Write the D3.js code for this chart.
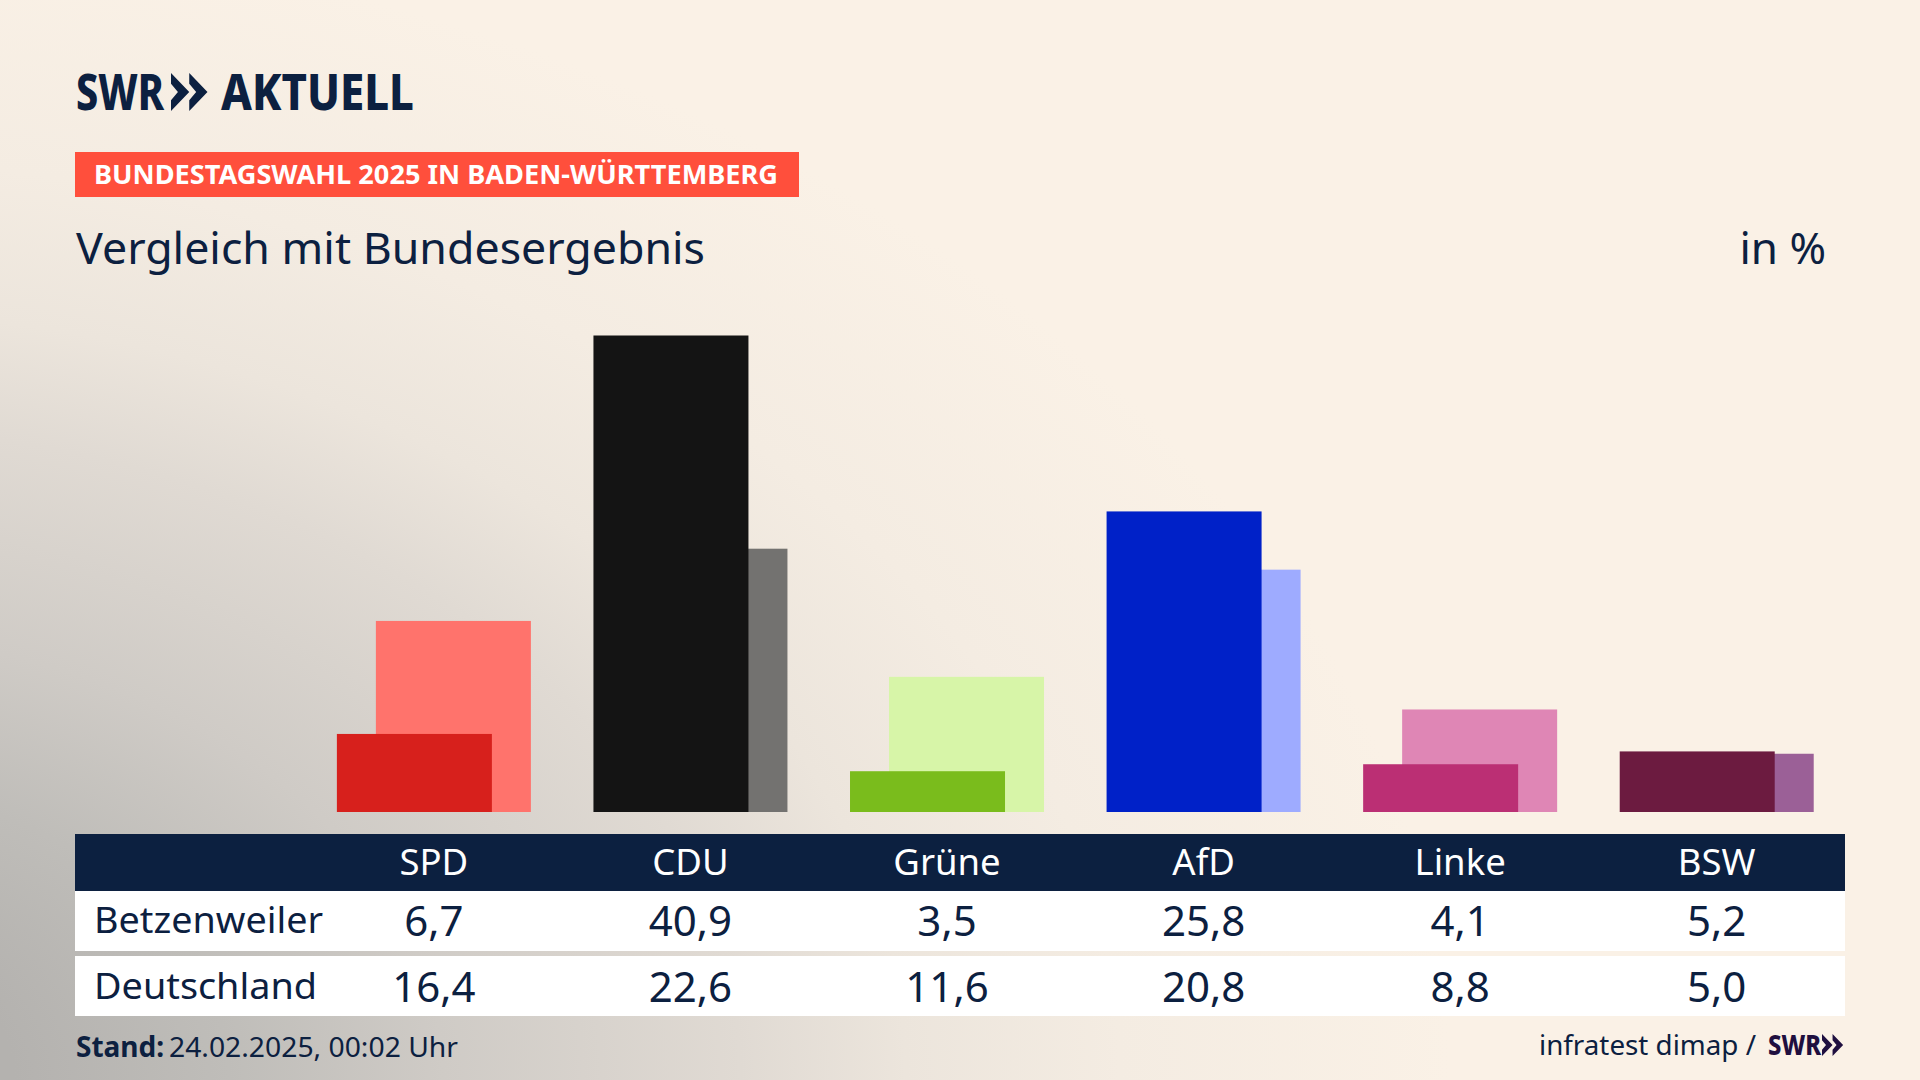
<!DOCTYPE html>
<html>

<head>
  <meta charset="utf-8">
  <title>Vergleich mit Bundesergebnis</title>
  <script src="https://d3js.org/d3.v7.min.js"></script>
  <style>
    html, body {
      margin: 0;
      padding: 0;
      background: #faf1e6;
    }

    svg {
      display: block;
    }

    text {
      font-family: "Noto Sans", sans-serif;
      fill: #0c2040;
    }
  </style>
</head>

<body>
  <svg id="root" width="1920" height="1080"></svg>
  <script>
    var parties = ['SPD', 'CDU', 'Grüne', 'AfD', 'Linke', 'BSW'];
    var betzenweiler = [6.7, 40.9, 3.5, 25.8, 4.1, 5.2];
    var deutschland = [16.4, 22.6, 11.6, 20.8, 8.8, 5.0];
    var darkColors = ['#d7201c', '#141414', '#7abc1c', '#0021c8', '#bb2f74', '#6c1b40'];
    var lightColors = ['#ff736c', '#737270', '#d7f5a8', '#9eabff', '#df86b5', '#9b6097'];

    var navy = '#0c2040';
    var svg = d3.select('#root');

    // background: grey glow out of the lower left corner
    var defs = svg.append('defs');
    var glow = defs.append('radialGradient')
      .attr('id', 'glow')
      .attr('gradientUnits', 'userSpaceOnUse')
      .attr('cx', 0)
      .attr('cy', 0)
      .attr('r', 1)
      .attr('gradientTransform', 'translate(-200,1080) scale(1650,1150)');
    [[0.13, '#b4b2af'], [0.26, '#bfbdb9'], [0.39, '#cfcbc6'], [0.57, '#e0dad3'],
      [0.67, '#ece5dc'], [0.8, '#f4ece2'], [1, '#faf1e6']].forEach(function (s) {
      glow.append('stop').attr('offset', s[0]).attr('stop-color', s[1]);
    });

    svg.append('rect')
      .attr('width', 1920)
      .attr('height', 1080)
      .attr('fill', 'url(#glow)');

    var x = d3.scaleBand().domain(parties).range([305.6, 1845]);
    var y = d3.scaleLinear().domain([0, 40.9]).range([812, 335.5]);
    var comma = d3.formatLocale({ decimal: ',', thousands: '.', grouping: [3], currency: ['', ' €'] }).format('.1f');

    var barWidth = 155;
    var offset = 39; // how far the national bar sticks out to the right

    // logo
    function chevrons(g, x0, top, h, color) {
      var w = h * 0.48;
      [0, w].forEach(function (dx) {
        var p = d3.path();
        p.moveTo(x0 + dx, top);
        p.lineTo(x0 + dx + w, top + h / 2);
        p.lineTo(x0 + dx, top + h);
        p.lineTo(x0 + dx, top + h * 0.72);
        p.lineTo(x0 + dx + w * 0.38, top + h / 2);
        p.lineTo(x0 + dx, top + h * 0.28);
        p.closePath();
        g.append('path').attr('d', p.toString()).attr('fill', color);
      });
    }

    var logo = svg.append('g');
    logo.append('text')
      .attr('x', 76)
      .attr('y', 110)
      .attr('textLength', 88)
      .attr('lengthAdjust', 'spacingAndGlyphs')
      .style('font-size', '49px')
      .style('font-weight', 800)
      .text('SWR');
    chevrons(logo, 171, 73, 38, navy);
    logo.append('text')
      .attr('x', 221)
      .attr('y', 110)
      .attr('textLength', 193)
      .attr('lengthAdjust', 'spacingAndGlyphs')
      .style('font-size', '49px')
      .style('font-weight', 800)
      .text('AKTUELL');

    // banner and title
    svg.append('rect')
      .attr('x', 75)
      .attr('y', 152)
      .attr('width', 724)
      .attr('height', 45)
      .attr('fill', '#ff4f3c');
    svg.append('text')
      .attr('x', 94)
      .attr('y', 184)
      .attr('textLength', 684)
      .attr('lengthAdjust', 'spacingAndGlyphs')
      .style('font-size', '27px')
      .style('font-weight', 700)
      .style('fill', '#fff')
      .text('BUNDESTAGSWAHL 2025 IN BADEN-WÜRTTEMBERG');
    svg.append('text')
      .attr('x', 76)
      .attr('y', 264)
      .attr('textLength', 629)
      .attr('lengthAdjust', 'spacingAndGlyphs')
      .style('font-size', '44px')
      .text('Vergleich mit Bundesergebnis');
    svg.append('text')
      .attr('x', 1826)
      .attr('y', 264)
      .attr('text-anchor', 'end')
      .style('font-size', '44px')
      .text('in %');

    // bars, national result behind the local one
    svg.append('g').selectAll('rect')
      .data(parties)
      .enter()
      .append('rect')
      .attr('x', function (d) { return x(d) + x.bandwidth() / 2 - barWidth / 2 + offset / 2; })
      .attr('y', function (d, i) { return y(deutschland[i]); })
      .attr('width', barWidth)
      .attr('height', function (d, i) { return y(0) - y(deutschland[i]); })
      .attr('fill', function (d, i) { return lightColors[i]; });

    svg.append('g').selectAll('rect')
      .data(parties)
      .enter()
      .append('rect')
      .attr('x', function (d) { return x(d) + x.bandwidth() / 2 - barWidth / 2 - offset / 2; })
      .attr('y', function (d, i) { return y(betzenweiler[i]); })
      .attr('width', barWidth)
      .attr('height', function (d, i) { return y(0) - y(betzenweiler[i]); })
      .attr('fill', function (d, i) { return darkColors[i]; });

    // table
    svg.append('rect')
      .attr('x', 75)
      .attr('y', 834)
      .attr('width', 1770)
      .attr('height', 57)
      .attr('fill', navy);

    svg.append('g').selectAll('text')
      .data(parties)
      .enter()
      .append('text')
      .attr('x', function (d) { return x(d) + x.bandwidth() / 2; })
      .attr('y', 875)
      .attr('text-anchor', 'middle')
      .style('font-size', '36.5px')
      .style('fill', '#fff')
      .text(function (d) { return d; });

    function drawRow(label, labelWidth, values, top, height, labelY, valueY) {
      var row = svg.append('g');
      row.append('rect')
        .attr('x', 75)
        .attr('y', top)
        .attr('width', 1770)
        .attr('height', height)
        .attr('fill', '#fff');
      row.append('text')
        .attr('x', 94)
        .attr('y', labelY)
        .attr('textLength', labelWidth)
        .attr('lengthAdjust', 'spacingAndGlyphs')
        .style('font-size', '36px')
        .text(label);
      row.selectAll('.value')
        .data(values)
        .enter()
        .append('text')
        .attr('class', 'value')
        .attr('x', function (d, i) { return x(parties[i]) + x.bandwidth() / 2; })
        .attr('y', valueY)
        .attr('text-anchor', 'middle')
        .style('font-size', '42px')
        .text(function (d) { return comma(d); });
    }
    drawRow('Betzenweiler', 229, betzenweiler, 891, 60, 933, 936);
    drawRow('Deutschland', 223, deutschland, 956, 60, 999, 1002);

    // footer
    svg.append('text')
      .attr('x', 76)
      .attr('y', 1057)
      .style('font-size', '28px')
      .style('font-weight', 700)
      .text('Stand:');
    svg.append('text')
      .attr('x', 169)
      .attr('y', 1057)
      .attr('textLength', 289)
      .attr('lengthAdjust', 'spacingAndGlyphs')
      .style('font-size', '28px')
      .text('24.02.2025, 00:02 Uhr');
    svg.append('text')
      .attr('x', 1539)
      .attr('y', 1055)
      .attr('textLength', 217)
      .attr('lengthAdjust', 'spacingAndGlyphs')
      .style('font-size', '28px')
      .text('infratest dimap /');
    svg.append('text')
      .attr('x', 1768)
      .attr('y', 1055)
      .attr('textLength', 53)
      .attr('lengthAdjust', 'spacingAndGlyphs')
      .style('font-size', '28px')
      .style('font-weight', 800)
      .style('fill', '#1f0f3f')
      .text('SWR');
    chevrons(svg.append('g'), 1822, 1034, 22, '#1f0f3f');
  </script>
</body>

</html>
